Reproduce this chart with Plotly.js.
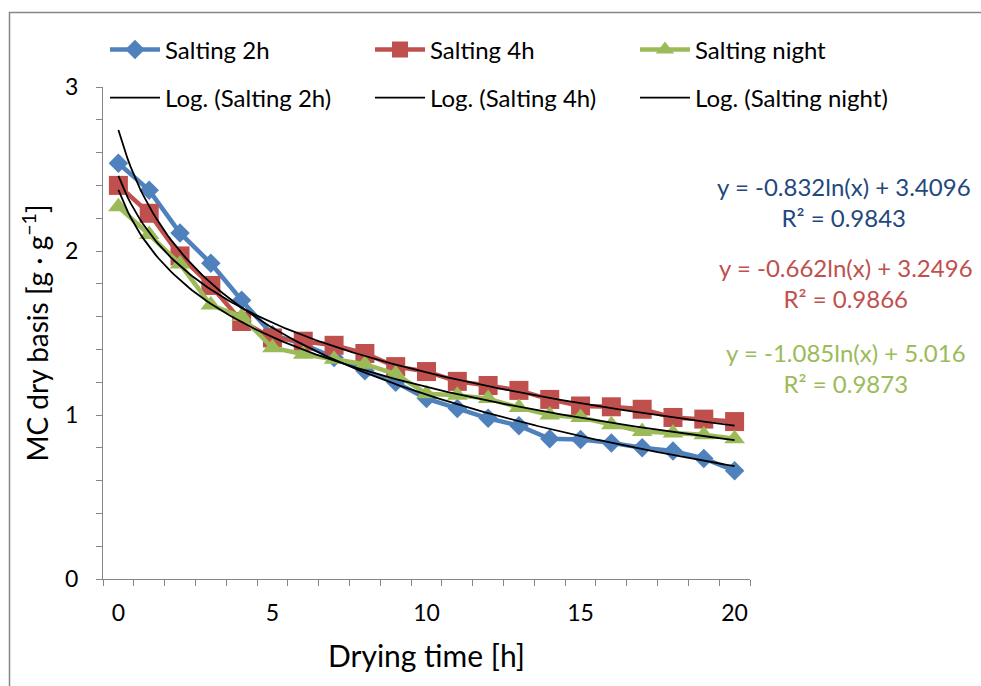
<!DOCTYPE html>
<html>
<head>
<meta charset="utf-8">
<script src="https://cdn.plot.ly/plotly-3.0.1.min.js"></script>
<style>
  html, body { margin: 0; padding: 0; background: #ffffff; }
  #chart { width: 981px; height: 686px; }
</style>
</head>
<body>
<div id="chart"></div>
<script>
// ---- data ----
const dryingTime = [0, 1, 2, 3, 4, 5, 6, 7, 8, 9, 10, 11, 12, 13, 14, 15, 16, 17, 18, 19, 20];
const salting2h = [2.535, 2.37, 2.11, 1.925, 1.70, 1.49, 1.43, 1.35, 1.27, 1.20, 1.10, 1.04, 0.98, 0.935, 0.855, 0.85, 0.83, 0.80, 0.78, 0.735, 0.66];
const salting4h = [2.40, 2.23, 1.97, 1.79, 1.57, 1.47, 1.45, 1.425, 1.375, 1.295, 1.265, 1.205, 1.18, 1.15, 1.095, 1.055, 1.05, 1.035, 0.985, 0.975, 0.96];
const saltingNight = [2.27, 2.10, 1.92, 1.67, 1.60, 1.41, 1.37, 1.34, 1.31, 1.25, 1.13, 1.12, 1.10, 1.045, 1.00, 0.985, 0.94, 0.90, 0.89, 0.88, 0.855];
const seriesNames = ["Salting 2h", "Salting 4h", "Salting night"];
const trendNames = ["Log. (Salting 2h)", "Log. (Salting 4h)", "Log. (Salting night)"];
const equationLabels = [
  "y = -0.832ln(x) + 3.4096<br>R² = 0.9843",
  "y = -0.662ln(x) + 3.2496<br>R² = 0.9866",
  "y = -1.085ln(x) + 5.016<br>R² = 0.9873"
];
const xTickVals = [0, 5, 10, 15, 20];
const yTickVals = [0, 1, 2, 3];

// ---- layout geometry (pixels) ----
const W = 981, H = 686;
const M = { l: 103, r: 10, t: 87, b: 107 };
const gsW = W - M.l - M.r, gsH = H - M.t - M.b;
const axisRightPx = 750;
const px2x = px => (px - M.l) / gsW;
const py2y = py => (H - M.b - py) / gsH;

const colors = ["#4F81BD", "#C0504D", "#9BBB59"];
const eqColors = ["#1F497D", "#C0504D", "#9BBB59"];
const symbols = ["diamond", "square", "triangle-up"];
const msizes = [15, 19, 18];
const FONT = "Lato, 'Open Sans', sans-serif";

// logarithmic trendline (Excel style, category index x = i + 1), least squares
function logFit(ys) {
  const n = ys.length;
  const L = ys.map((_, i) => Math.log(i + 1));
  const mL = L.reduce((a, b) => a + b, 0) / n;
  const mY = ys.reduce((a, b) => a + b, 0) / n;
  let sxy = 0, sxx = 0;
  for (let i = 0; i < n; i++) { sxy += (L[i] - mL) * (ys[i] - mY); sxx += (L[i] - mL) ** 2; }
  const b = sxy / sxx, a = mY - b * mL;
  const xs = [], yv = [];
  for (let k = 0; k <= 200; k++) {
    const t = dryingTime[0] + (dryingTime[n - 1] - dryingTime[0]) * k / 200;
    xs.push(t);
    yv.push(a + b * Math.log(t + 1));
  }
  return { xs, yv };
}

const allSeries = [salting2h, salting4h, saltingNight];
const traces = [];
allSeries.forEach((ys, i) => {
  traces.push({
    x: dryingTime, y: ys, name: seriesNames[i], type: "scatter", mode: "lines+markers",
    line: { color: colors[i], width: 4.5 },
    marker: { symbol: symbols[i], size: msizes[i], color: colors[i] },
    legend: "legend", hoverinfo: "x+y"
  });
});
allSeries.forEach((ys, i) => {
  const f = logFit(ys);
  traces.push({
    x: f.xs, y: f.yv, name: trendNames[i], type: "scatter", mode: "lines",
    line: { color: "#000000", width: 1.8 },
    legend: "legend2", hoverinfo: "skip"
  });
});

const legendCommon = {
  orientation: "h", xanchor: "left", yanchor: "middle",
  font: { family: FONT, size: 24, color: "#000000" },
  bgcolor: "rgba(0,0,0,0)", borderwidth: 0,
  entrywidth: 200, entrywidthmode: "pixels", itemwidth: 50,
  traceorder: "normal"
};

const layout = {
  width: W, height: H,
  margin: M,
  paper_bgcolor: "#ffffff", plot_bgcolor: "#ffffff",
  font: { family: FONT, size: 20, color: "#000000" },
  showlegend: true,
  legend: Object.assign({}, legendCommon, { x: px2x(105), y: py2y(50) }),
  legend2: Object.assign({}, legendCommon, { x: px2x(105), y: py2y(98) }),
  xaxis: {
    domain: [0, (axisRightPx - M.l) / gsW],
    range: [-0.5, 20.5], showgrid: false, zeroline: false,
    showline: true, linecolor: "#868686", linewidth: 1,
    tickmode: "array", tickvals: xTickVals, ticktext: xTickVals.map(String),
    ticks: "", ticklabelstandoff: 13,
    tickfont: { family: FONT, size: 23, color: "#000000" },
    minor: { tickmode: "linear", tick0: -0.5, dtick: 1, ticks: "outside", ticklen: 6, tickcolor: "#868686", tickwidth: 1, showgrid: false },
    title: { text: "Drying time [h]", font: { family: FONT, size: 30, color: "#000000" }, standoff: 21 },
    fixedrange: true
  },
  yaxis: {
    range: [0, 3], showgrid: false, zeroline: false,
    showline: true, linecolor: "#868686", linewidth: 1,
    tickmode: "array", tickvals: yTickVals, ticktext: yTickVals.map(String),
    ticks: "outside", ticklen: 6, tickcolor: "#868686", tickwidth: 1,
    ticklabelstandoff: 13,
    tickfont: { family: FONT, size: 23, color: "#000000" },
    minor: { tickmode: "linear", tick0: 0, dtick: 0.2, ticks: "outside", ticklen: 6, tickcolor: "#868686", tickwidth: 1, showgrid: false },
    title: { text: "MC dry basis [g · g<sup>−1</sup>]", font: { family: FONT, size: 28, color: "#000000" }, standoff: 8 },
    fixedrange: true
  },
  annotations: [
    { xref: "paper", yref: "paper", x: px2x(844), y: py2y(202), text: equationLabels[0], showarrow: false, align: "center", xanchor: "center", yanchor: "middle", font: { family: FONT, size: 24, color: eqColors[0] } },
    { xref: "paper", yref: "paper", x: px2x(846), y: py2y(283), text: equationLabels[1], showarrow: false, align: "center", xanchor: "center", yanchor: "middle", font: { family: FONT, size: 24, color: eqColors[1] } },
    { xref: "paper", yref: "paper", x: px2x(846), y: py2y(368), text: equationLabels[2], showarrow: false, align: "center", xanchor: "center", yanchor: "middle", font: { family: FONT, size: 24, color: eqColors[2] } }
  ],
  shapes: [
    { type: "rect", xref: "paper", yref: "paper", x0: px2x(9.5), x1: px2x(995), y0: py2y(700), y1: py2y(12.5), line: { color: "#868686", width: 1.5 }, fillcolor: "rgba(0,0,0,0)", layer: "below" }
  ]
};

Plotly.newPlot("chart", traces, layout, { staticPlot: true, displayModeBar: false });
</script>
</body>
</html>
